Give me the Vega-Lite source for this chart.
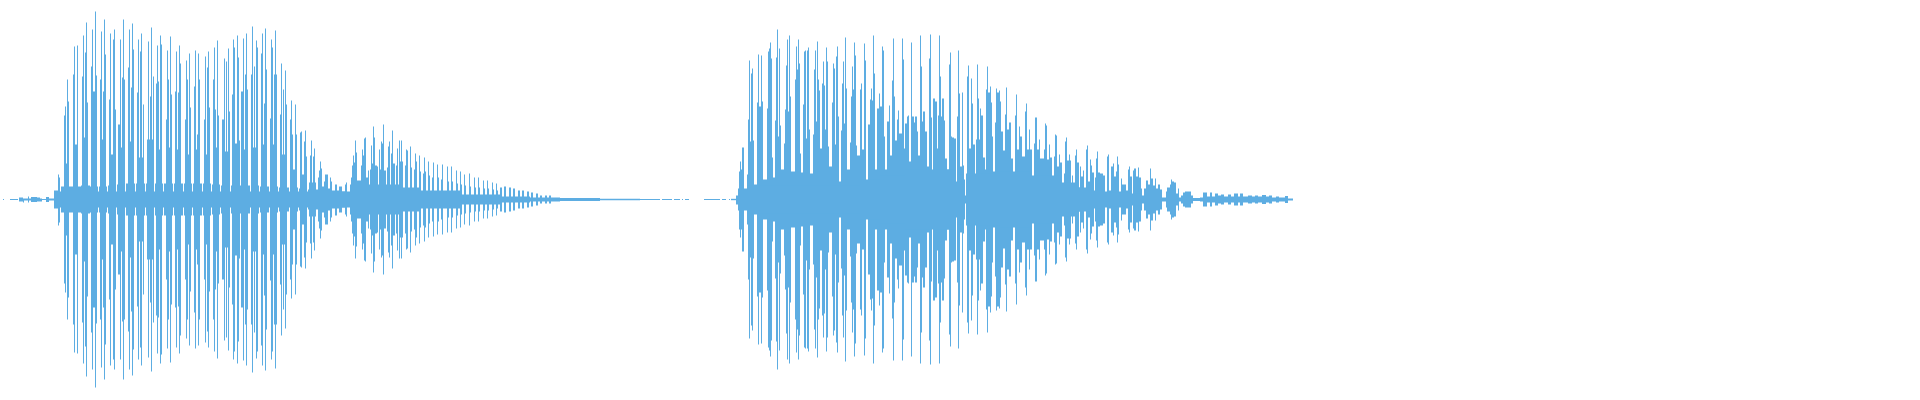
{
"$schema":"https://vega.github.io/schema/vega-lite/v6.json",
"width":1920,"height":400,"padding":0,
"autosize":"none",
"background":"white",
"view":{"stroke":null},
"data":{"values":[
{"x0":3,"x1":4,"lo":-0.5,"hi":0.5},{"x0":10,"x1":18,"lo":-0.5,"hi":0.5},{"x0":19,"x1":23,"lo":-2,"hi":2},{"x0":23,"x1":24,"lo":-3,"hi":1},{"x0":24,"x1":28,"lo":-1,"hi":1},{"x0":28,"x1":29,"lo":-3,"hi":3},{"x0":29,"x1":31,"lo":-1,"hi":1},{"x0":31,"x1":37,"lo":-2.5,"hi":2.5},{"x0":37,"x1":40,"lo":-2,"hi":2},{"x0":40,"x1":42,"lo":-2,"hi":1},{"x0":42,"x1":46,"lo":-0.5,"hi":0.5},{"x0":46,"x1":49,"lo":-2.5,"hi":2.5},{"x0":49,"x1":54,"lo":-1,"hi":1},
{"x0":54,"x1":60,"lo":-9,"hi":9},{"x0":58,"x1":59,"lo":-26,"hi":25},{"x0":59,"x1":60,"lo":-23,"hi":22},
{"x0":60,"x1":350,"lo":-8,"hi":8},
{"x0":61,"x1":72,"lo":-13,"hi":13},{"x0":72,"x1":81,"lo":-13,"hi":13},{"x0":81,"x1":90,"lo":-14,"hi":14},{"x0":90,"x1":98,"lo":-13,"hi":13},{"x0":99,"x1":107,"lo":-13,"hi":13},{"x0":108,"x1":116,"lo":-14,"hi":14},{"x0":117,"x1":125,"lo":-15,"hi":15},{"x0":126,"x1":135,"lo":-16,"hi":16},{"x0":136,"x1":145,"lo":-16,"hi":16},{"x0":146,"x1":154,"lo":-16,"hi":16},{"x0":155,"x1":163,"lo":-16,"hi":16},{"x0":164,"x1":173,"lo":-16,"hi":16},{"x0":174,"x1":183,"lo":-16,"hi":16},{"x0":184,"x1":192,"lo":-16,"hi":16},{"x0":193,"x1":202,"lo":-16,"hi":16},{"x0":203,"x1":211,"lo":-16,"hi":16},{"x0":212,"x1":220,"lo":-15,"hi":15},{"x0":221,"x1":230,"lo":-14,"hi":14},{"x0":231,"x1":239,"lo":-14,"hi":14},{"x0":240,"x1":250,"lo":-14,"hi":14},{"x0":251,"x1":259,"lo":-14,"hi":14},{"x0":260,"x1":269,"lo":-13,"hi":13},{"x0":270,"x1":278,"lo":-13,"hi":13},{"x0":279,"x1":289,"lo":-12,"hi":12},{"x0":290,"x1":298,"lo":-12,"hi":12},{"x0":299,"x1":307,"lo":-11,"hi":11},{"x0":308,"x1":318,"lo":-10,"hi":10},
{"x0":64,"x1":69,"lo":-36,"hi":36},{"x0":64,"x1":65,"lo":-84,"hi":84},{"x0":65,"x1":66,"lo":-93,"hi":93},{"x0":67,"x1":68,"lo":-120,"hi":120},{"x0":68,"x1":69,"lo":-98,"hi":98},
{"x0":73,"x1":78,"lo":-55,"hi":55},{"x0":73,"x1":74,"lo":-125,"hi":125},{"x0":74,"x1":75,"lo":-153,"hi":153},{"x0":77,"x1":78,"lo":-154,"hi":154},
{"x0":82,"x1":87,"lo":-62,"hi":62},{"x0":82,"x1":83,"lo":-123,"hi":123},{"x0":83,"x1":84,"lo":-164,"hi":164},{"x0":85,"x1":86,"lo":-147,"hi":147},{"x0":86,"x1":87,"lo":-177,"hi":177},{"x0":87,"x1":88,"lo":-97,"hi":97},
{"x0":91,"x1":97,"lo":-62,"hi":62},{"x0":91,"x1":92,"lo":-133,"hi":133},{"x0":92,"x1":93,"lo":-170,"hi":170},{"x0":93,"x1":95,"lo":-108,"hi":108},{"x0":95,"x1":96,"lo":-188,"hi":188},{"x0":96,"x1":97,"lo":-124,"hi":124},
{"x0":100,"x1":106,"lo":-60,"hi":60},{"x0":100,"x1":101,"lo":-120,"hi":120},{"x0":101,"x1":102,"lo":-168,"hi":168},{"x0":103,"x1":104,"lo":-108,"hi":108},{"x0":104,"x1":105,"lo":-180,"hi":180},{"x0":105,"x1":106,"lo":-145,"hi":145},
{"x0":109,"x1":115,"lo":-45,"hi":45},{"x0":109,"x1":110,"lo":-100,"hi":100},{"x0":110,"x1":111,"lo":-166,"hi":166},{"x0":113,"x1":114,"lo":-160,"hi":160},{"x0":114,"x1":115,"lo":-170,"hi":170},{"x0":115,"x1":116,"lo":-90,"hi":90},
{"x0":119,"x1":125,"lo":-52,"hi":52},{"x0":118,"x1":120,"lo":-75,"hi":75},{"x0":120,"x1":121,"lo":-160,"hi":160},{"x0":122,"x1":123,"lo":-122,"hi":122},{"x0":123,"x1":124,"lo":-180,"hi":180},{"x0":124,"x1":125,"lo":-120,"hi":120},
{"x0":128,"x1":134,"lo":-58,"hi":58},{"x0":128,"x1":129,"lo":-132,"hi":132},{"x0":129,"x1":130,"lo":-170,"hi":170},{"x0":131,"x1":132,"lo":-112,"hi":112},{"x0":132,"x1":133,"lo":-176,"hi":176},{"x0":133,"x1":134,"lo":-150,"hi":150},
{"x0":137,"x1":143,"lo":-42,"hi":42},{"x0":137,"x1":138,"lo":-107,"hi":107},{"x0":138,"x1":139,"lo":-160,"hi":160},{"x0":140,"x1":141,"lo":-148,"hi":148},{"x0":141,"x1":142,"lo":-166,"hi":166},{"x0":143,"x1":144,"lo":-95,"hi":95},
{"x0":147,"x1":153,"lo":-60,"hi":60},{"x0":148,"x1":149,"lo":-158,"hi":158},{"x0":150,"x1":151,"lo":-103,"hi":103},{"x0":151,"x1":152,"lo":-172,"hi":172},{"x0":153,"x1":154,"lo":-123,"hi":123},
{"x0":156,"x1":162,"lo":-50,"hi":50},{"x0":156,"x1":157,"lo":-116,"hi":116},{"x0":157,"x1":158,"lo":-154,"hi":154},{"x0":158,"x1":159,"lo":-118,"hi":118},{"x0":160,"x1":161,"lo":-164,"hi":164},{"x0":161,"x1":162,"lo":-155,"hi":155},
{"x0":166,"x1":172,"lo":-52,"hi":52},{"x0":166,"x1":167,"lo":-80,"hi":80},{"x0":167,"x1":168,"lo":-149,"hi":149},{"x0":168,"x1":169,"lo":-120,"hi":120},{"x0":170,"x1":171,"lo":-163,"hi":163},{"x0":171,"x1":172,"lo":-105,"hi":105},
{"x0":175,"x1":181,"lo":-50,"hi":50},{"x0":175,"x1":176,"lo":-108,"hi":108},{"x0":176,"x1":177,"lo":-148,"hi":148},{"x0":178,"x1":179,"lo":-107,"hi":107},{"x0":179,"x1":180,"lo":-154,"hi":154},{"x0":180,"x1":181,"lo":-136,"hi":136},
{"x0":185,"x1":191,"lo":-45,"hi":45},{"x0":185,"x1":186,"lo":-80,"hi":80},{"x0":186,"x1":187,"lo":-139,"hi":139},{"x0":187,"x1":188,"lo":-120,"hi":120},{"x0":189,"x1":190,"lo":-146,"hi":146},{"x0":190,"x1":191,"lo":-92,"hi":92},
{"x0":194,"x1":200,"lo":-50,"hi":50},{"x0":194,"x1":195,"lo":-113,"hi":113},{"x0":195,"x1":196,"lo":-149,"hi":149},{"x0":197,"x1":198,"lo":-65,"hi":65},{"x0":198,"x1":199,"lo":-146,"hi":146},{"x0":199,"x1":200,"lo":-120,"hi":120},
{"x0":204,"x1":210,"lo":-45,"hi":45},{"x0":204,"x1":205,"lo":-80,"hi":80},{"x0":205,"x1":206,"lo":-143,"hi":143},{"x0":207,"x1":208,"lo":-132,"hi":132},{"x0":208,"x1":209,"lo":-148,"hi":148},{"x0":209,"x1":210,"lo":-92,"hi":92},
{"x0":213,"x1":219,"lo":-52,"hi":52},{"x0":213,"x1":214,"lo":-120,"hi":120},{"x0":214,"x1":215,"lo":-152,"hi":152},{"x0":215,"x1":216,"lo":-90,"hi":90},{"x0":217,"x1":218,"lo":-159,"hi":159},{"x0":218,"x1":219,"lo":-84,"hi":84},
{"x0":223,"x1":229,"lo":-48,"hi":48},{"x0":222,"x1":224,"lo":-80,"hi":80},{"x0":224,"x1":225,"lo":-141,"hi":141},{"x0":226,"x1":227,"lo":-138,"hi":138},{"x0":228,"x1":229,"lo":-151,"hi":151},{"x0":229,"x1":230,"lo":-88,"hi":88},
{"x0":232,"x1":238,"lo":-56,"hi":56},{"x0":232,"x1":233,"lo":-105,"hi":105},{"x0":233,"x1":234,"lo":-160,"hi":160},{"x0":234,"x1":235,"lo":-152,"hi":152},{"x0":237,"x1":238,"lo":-164,"hi":164},{"x0":238,"x1":239,"lo":-142,"hi":142},{"x0":239,"x1":240,"lo":-59,"hi":59},
{"x0":242,"x1":248,"lo":-50,"hi":50},{"x0":241,"x1":243,"lo":-108,"hi":108},{"x0":243,"x1":244,"lo":-161,"hi":161},{"x0":245,"x1":246,"lo":-125,"hi":125},{"x0":246,"x1":247,"lo":-166,"hi":166},{"x0":247,"x1":248,"lo":-110,"hi":110},
{"x0":251,"x1":258,"lo":-52,"hi":52},{"x0":251,"x1":252,"lo":-125,"hi":125},{"x0":252,"x1":253,"lo":-173,"hi":173},{"x0":254,"x1":255,"lo":-133,"hi":133},{"x0":256,"x1":257,"lo":-159,"hi":159},{"x0":257,"x1":258,"lo":-152,"hi":152},
{"x0":261,"x1":267,"lo":-55,"hi":55},{"x0":261,"x1":262,"lo":-146,"hi":146},{"x0":262,"x1":263,"lo":-166,"hi":166},{"x0":264,"x1":265,"lo":-96,"hi":96},{"x0":265,"x1":266,"lo":-171,"hi":171},{"x0":266,"x1":267,"lo":-130,"hi":130},
{"x0":270,"x1":277,"lo":-55,"hi":55},{"x0":270,"x1":271,"lo":-81,"hi":81},{"x0":271,"x1":272,"lo":-160,"hi":160},{"x0":272,"x1":273,"lo":-152,"hi":152},{"x0":274,"x1":275,"lo":-125,"hi":125},{"x0":275,"x1":276,"lo":-169,"hi":169},{"x0":276,"x1":277,"lo":-125,"hi":125},
{"x0":280,"x1":287,"lo":-45,"hi":45},{"x0":280,"x1":281,"lo":-85,"hi":85},{"x0":281,"x1":282,"lo":-136,"hi":136},{"x0":283,"x1":284,"lo":-110,"hi":110},{"x0":285,"x1":286,"lo":-129,"hi":129},{"x0":286,"x1":287,"lo":-95,"hi":95},
{"x0":290,"x1":297,"lo":-30,"hi":30},{"x0":290,"x1":291,"lo":-80,"hi":80},{"x0":291,"x1":292,"lo":-99,"hi":99},{"x0":292,"x1":293,"lo":-65,"hi":65},{"x0":295,"x1":296,"lo":-95,"hi":95},{"x0":296,"x1":297,"lo":-65,"hi":65},
{"x0":300,"x1":307,"lo":-25,"hi":25},{"x0":300,"x1":301,"lo":-67,"hi":67},{"x0":301,"x1":302,"lo":-68,"hi":68},{"x0":304,"x1":305,"lo":-58,"hi":58},{"x0":305,"x1":306,"lo":-69,"hi":69},{"x0":306,"x1":307,"lo":-43,"hi":43},
{"x0":309,"x1":316,"lo":-17,"hi":17},{"x0":310,"x1":311,"lo":-44,"hi":44},{"x0":311,"x1":312,"lo":-59,"hi":59},{"x0":313,"x1":314,"lo":-43,"hi":43},{"x0":314,"x1":315,"lo":-51,"hi":51},
{"x0":318,"x1":319,"lo":-22,"hi":22},{"x0":319,"x1":320,"lo":-29,"hi":29},{"x0":320,"x1":321,"lo":-39,"hi":38},{"x0":321,"x1":322,"lo":-31,"hi":31},{"x0":322,"x1":324,"lo":-13,"hi":13},{"x0":324,"x1":325,"lo":-18,"hi":18},{"x0":325,"x1":328,"lo":-25,"hi":25},{"x0":328,"x1":330,"lo":-11,"hi":11},{"x0":330,"x1":331,"lo":-22,"hi":22},{"x0":331,"x1":332,"lo":-18,"hi":18},{"x0":332,"x1":335,"lo":-9,"hi":9},{"x0":335,"x1":337,"lo":-16,"hi":15},{"x0":337,"x1":339,"lo":-9,"hi":9},{"x0":339,"x1":342,"lo":-13,"hi":13},{"x0":342,"x1":345,"lo":-8,"hi":8},{"x0":345,"x1":346,"lo":-15,"hi":15},{"x0":346,"x1":347,"lo":-17,"hi":17},{"x0":347,"x1":350,"lo":-5,"hi":5},{"x0":350,"x1":351,"lo":-15,"hi":15},{"x0":351,"x1":352,"lo":-22,"hi":22},
{"x0":352,"x1":360,"lo":-12,"hi":12},{"x0":360,"x1":400,"lo":-15,"hi":15},{"x0":400,"x1":420,"lo":-12,"hi":12},{"x0":420,"x1":460,"lo":-9,"hi":9},{"x0":460,"x1":500,"lo":-5,"hi":5},{"x0":500,"x1":530,"lo":-3,"hi":3},{"x0":530,"x1":560,"lo":-2,"hi":2},{"x0":560,"x1":600,"lo":-1.5,"hi":1.5},{"x0":600,"x1":640,"lo":-0.7,"hi":0.7},
{"x0":352,"x1":353,"lo":-34,"hi":34},{"x0":353,"x1":354,"lo":-46,"hi":44},{"x0":354,"x1":355,"lo":-37,"hi":37},{"x0":355,"x1":356,"lo":-59,"hi":59},{"x0":356,"x1":357,"lo":-47,"hi":47},{"x0":357,"x1":361,"lo":-19,"hi":19},{"x0":361,"x1":362,"lo":-34,"hi":34},{"x0":362,"x1":363,"lo":-50,"hi":50},{"x0":363,"x1":364,"lo":-44,"hi":44},{"x0":364,"x1":365,"lo":-61,"hi":61},{"x0":365,"x1":366,"lo":-62,"hi":62},{"x0":366,"x1":368,"lo":-22,"hi":22},{"x0":368,"x1":369,"lo":-29,"hi":29},{"x0":370,"x1":371,"lo":-30,"hi":30},{"x0":371,"x1":372,"lo":-54,"hi":54},{"x0":372,"x1":373,"lo":-36,"hi":36},{"x0":373,"x1":374,"lo":-73,"hi":73},{"x0":374,"x1":375,"lo":-62,"hi":62},{"x0":375,"x1":377,"lo":-34,"hi":34},{"x0":377,"x1":378,"lo":-33,"hi":33},{"x0":379,"x1":380,"lo":-50,"hi":50},{"x0":380,"x1":381,"lo":-30,"hi":30},{"x0":381,"x1":382,"lo":-58,"hi":58},{"x0":382,"x1":383,"lo":-56,"hi":56},{"x0":383,"x1":384,"lo":-75,"hi":75},{"x0":384,"x1":386,"lo":-29,"hi":29},{"x0":387,"x1":388,"lo":-32,"hi":32},{"x0":388,"x1":389,"lo":-53,"hi":53},{"x0":389,"x1":390,"lo":-58,"hi":58},{"x0":391,"x1":392,"lo":-46,"hi":46},{"x0":392,"x1":393,"lo":-69,"hi":69},{"x0":393,"x1":395,"lo":-36,"hi":36},{"x0":396,"x1":397,"lo":-34,"hi":34},{"x0":397,"x1":398,"lo":-51,"hi":51},{"x0":399,"x1":400,"lo":-59,"hi":59},{"x0":400,"x1":401,"lo":-38,"hi":38},{"x0":401,"x1":402,"lo":-59,"hi":59},{"x0":402,"x1":403,"lo":-38,"hi":38},
{"x0":405,"x1":406,"lo":-34,"hi":34},{"x0":406,"x1":407,"lo":-50,"hi":50},{"x0":407,"x1":408,"lo":-49,"hi":49},{"x0":410,"x1":411,"lo":-53,"hi":53},{"x0":411,"x1":412,"lo":-32,"hi":32},{"x0":414,"x1":415,"lo":-30,"hi":30},{"x0":415,"x1":416,"lo":-46,"hi":46},{"x0":416,"x1":417,"lo":-38,"hi":38},{"x0":419,"x1":420,"lo":-44,"hi":44},{"x0":420,"x1":421,"lo":-28,"hi":28},{"x0":423,"x1":424,"lo":-26,"hi":26},{"x0":424,"x1":425,"lo":-42,"hi":42},{"x0":425,"x1":426,"lo":-28,"hi":28},{"x0":428,"x1":429,"lo":-38,"hi":38},{"x0":429,"x1":430,"lo":-24,"hi":24},{"x0":432,"x1":433,"lo":-22,"hi":22},{"x0":433,"x1":434,"lo":-37,"hi":37},{"x0":437,"x1":438,"lo":-35,"hi":35},{"x0":438,"x1":439,"lo":-22,"hi":22},{"x0":441,"x1":442,"lo":-20,"hi":20},{"x0":442,"x1":443,"lo":-35,"hi":35},{"x0":447,"x1":448,"lo":-33,"hi":33},{"x0":448,"x1":449,"lo":-18,"hi":18},{"x0":451,"x1":452,"lo":-33,"hi":33},{"x0":452,"x1":453,"lo":-18,"hi":18},{"x0":456,"x1":457,"lo":-29,"hi":29},{"x0":457,"x1":458,"lo":-16,"hi":16},{"x0":460,"x1":461,"lo":-28,"hi":28},{"x0":461,"x1":462,"lo":-15,"hi":15},{"x0":464,"x1":465,"lo":-25,"hi":25},{"x0":465,"x1":466,"lo":-14,"hi":14},{"x0":469,"x1":470,"lo":-26,"hi":26},{"x0":470,"x1":471,"lo":-13,"hi":13},{"x0":474,"x1":475,"lo":-22,"hi":22},{"x0":475,"x1":476,"lo":-12,"hi":12},{"x0":478,"x1":479,"lo":-22,"hi":22},{"x0":479,"x1":480,"lo":-12,"hi":12},{"x0":483,"x1":484,"lo":-19,"hi":19},{"x0":484,"x1":485,"lo":-11,"hi":11},{"x0":487,"x1":488,"lo":-19,"hi":19},{"x0":488,"x1":489,"lo":-11,"hi":11},{"x0":492,"x1":493,"lo":-17,"hi":17},{"x0":493,"x1":494,"lo":-10,"hi":10},{"x0":496,"x1":497,"lo":-16,"hi":16},{"x0":497,"x1":498,"lo":-9,"hi":9},{"x0":500,"x1":502,"lo":-12,"hi":12},{"x0":504,"x1":506,"lo":-13,"hi":13},{"x0":509,"x1":511,"lo":-12,"hi":12},{"x0":513,"x1":515,"lo":-11,"hi":11},{"x0":518,"x1":520,"lo":-9,"hi":9},{"x0":522,"x1":524,"lo":-9,"hi":9},{"x0":527,"x1":529,"lo":-8,"hi":8},{"x0":531,"x1":533,"lo":-7,"hi":7},{"x0":536,"x1":538,"lo":-6,"hi":6},{"x0":540,"x1":542,"lo":-4,"hi":4},{"x0":545,"x1":547,"lo":-4,"hi":4},{"x0":549,"x1":551,"lo":-4,"hi":4},
{"x0":640,"x1":660,"lo":-0.5,"hi":0.5},{"x0":662,"x1":672,"lo":-0.5,"hi":0.5},{"x0":674,"x1":680,"lo":-0.5,"hi":0.5},{"x0":682,"x1":683,"lo":-0.5,"hi":0.5},{"x0":685,"x1":689,"lo":-0.5,"hi":0.5},{"x0":704,"x1":712,"lo":-0.5,"hi":0.5},{"x0":712,"x1":720,"lo":-0.5,"hi":0.5},
{"x0":722,"x1":726,"lo":-0.5,"hi":0.5},{"x0":729,"x1":730,"lo":-0.5,"hi":0.5},{"x0":731,"x1":736,"lo":-0.7,"hi":0.7},{"x0":736,"x1":738,"lo":-5,"hi":4},{"x0":738,"x1":739,"lo":-11,"hi":11},{"x0":739,"x1":740,"lo":-30,"hi":28},{"x0":740,"x1":741,"lo":-38,"hi":38},{"x0":741,"x1":742,"lo":-30,"hi":30},{"x0":742,"x1":744,"lo":-52,"hi":52},{"x0":744,"x1":747,"lo":-11,"hi":11},{"x0":747,"x1":748,"lo":-25,"hi":25},{"x0":748,"x1":749,"lo":-80,"hi":80},{"x0":749,"x1":750,"lo":-139,"hi":139},{"x0":750,"x1":751,"lo":-58,"hi":58},{"x0":751,"x1":752,"lo":-126,"hi":126},{"x0":752,"x1":753,"lo":-131,"hi":131},{"x0":753,"x1":754,"lo":-59,"hi":59},{"x0":754,"x1":757,"lo":-15,"hi":15},{"x0":757,"x1":758,"lo":-97,"hi":97},{"x0":758,"x1":759,"lo":-145,"hi":145},{"x0":759,"x1":761,"lo":-93,"hi":93},{"x0":761,"x1":762,"lo":-144,"hi":144},{"x0":762,"x1":763,"lo":-98,"hi":98},{"x0":763,"x1":767,"lo":-20,"hi":20},{"x0":767,"x1":768,"lo":-91,"hi":91},{"x0":768,"x1":769,"lo":-148,"hi":148},{"x0":769,"x1":770,"lo":-151,"hi":151},{"x0":770,"x1":771,"lo":-157,"hi":157},{"x0":771,"x1":772,"lo":-141,"hi":141},{"x0":772,"x1":773,"lo":-42,"hi":42},{"x0":773,"x1":775,"lo":-22,"hi":22},{"x0":775,"x1":776,"lo":-79,"hi":79},{"x0":776,"x1":777,"lo":-142,"hi":142},{"x0":777,"x1":778,"lo":-170,"hi":170},{"x0":778,"x1":779,"lo":-63,"hi":63},{"x0":779,"x1":780,"lo":-151,"hi":151},{"x0":780,"x1":781,"lo":-74,"hi":74},{"x0":781,"x1":784,"lo":-30,"hi":30},{"x0":784,"x1":785,"lo":-56,"hi":56},{"x0":785,"x1":786,"lo":-90,"hi":90},{"x0":786,"x1":787,"lo":-134,"hi":134},{"x0":787,"x1":788,"lo":-160,"hi":160},{"x0":788,"x1":789,"lo":-88,"hi":88},{"x0":789,"x1":790,"lo":-164,"hi":164},{"x0":790,"x1":791,"lo":-103,"hi":103},{"x0":791,"x1":795,"lo":-28,"hi":28},{"x0":795,"x1":796,"lo":-120,"hi":120},{"x0":796,"x1":797,"lo":-153,"hi":153},{"x0":797,"x1":798,"lo":-130,"hi":130},{"x0":798,"x1":799,"lo":-160,"hi":160},{"x0":799,"x1":800,"lo":-136,"hi":136},{"x0":800,"x1":801,"lo":-46,"hi":46},{"x0":801,"x1":803,"lo":-27,"hi":27},{"x0":803,"x1":804,"lo":-95,"hi":95},{"x0":804,"x1":805,"lo":-148,"hi":148},{"x0":805,"x1":806,"lo":-149,"hi":149},{"x0":806,"x1":807,"lo":-61,"hi":61},{"x0":807,"x1":808,"lo":-149,"hi":149},{"x0":808,"x1":809,"lo":-152,"hi":152},{"x0":809,"x1":810,"lo":-70,"hi":70},{"x0":810,"x1":813,"lo":-26,"hi":26},{"x0":813,"x1":814,"lo":-65,"hi":65},{"x0":814,"x1":815,"lo":-130,"hi":130},{"x0":815,"x1":816,"lo":-149,"hi":149},{"x0":816,"x1":817,"lo":-78,"hi":78},{"x0":817,"x1":818,"lo":-158,"hi":158},{"x0":818,"x1":819,"lo":-120,"hi":120},{"x0":819,"x1":820,"lo":-109,"hi":109},{"x0":820,"x1":822,"lo":-51,"hi":51},{"x0":822,"x1":823,"lo":-116,"hi":116},{"x0":823,"x1":824,"lo":-138,"hi":138},{"x0":824,"x1":825,"lo":-114,"hi":114},{"x0":825,"x1":826,"lo":-70,"hi":70},{"x0":826,"x1":827,"lo":-152,"hi":152},{"x0":827,"x1":828,"lo":-138,"hi":138},{"x0":828,"x1":829,"lo":-53,"hi":53},{"x0":829,"x1":832,"lo":-33,"hi":33},{"x0":832,"x1":833,"lo":-97,"hi":97},{"x0":833,"x1":834,"lo":-136,"hi":136},{"x0":834,"x1":835,"lo":-131,"hi":131},{"x0":835,"x1":836,"lo":-55,"hi":55},{"x0":836,"x1":837,"lo":-143,"hi":143},{"x0":837,"x1":838,"lo":-153,"hi":153},{"x0":838,"x1":839,"lo":-83,"hi":83},{"x0":839,"x1":841,"lo":-18,"hi":18},{"x0":841,"x1":842,"lo":-69,"hi":69},{"x0":842,"x1":843,"lo":-116,"hi":116},{"x0":843,"x1":844,"lo":-138,"hi":138},{"x0":844,"x1":845,"lo":-76,"hi":76},{"x0":845,"x1":846,"lo":-162,"hi":162},{"x0":846,"x1":847,"lo":-111,"hi":111},{"x0":847,"x1":850,"lo":-30,"hi":30},{"x0":850,"x1":851,"lo":-57,"hi":57},{"x0":851,"x1":852,"lo":-103,"hi":103},{"x0":852,"x1":853,"lo":-133,"hi":133},{"x0":853,"x1":854,"lo":-110,"hi":110},{"x0":854,"x1":855,"lo":-157,"hi":157},{"x0":855,"x1":856,"lo":-144,"hi":144},{"x0":856,"x1":857,"lo":-54,"hi":54},{"x0":857,"x1":860,"lo":-44,"hi":44},{"x0":860,"x1":861,"lo":-110,"hi":110},{"x0":861,"x1":862,"lo":-116,"hi":116},{"x0":862,"x1":864,"lo":-50,"hi":50},{"x0":864,"x1":865,"lo":-156,"hi":156},{"x0":865,"x1":866,"lo":-139,"hi":139},{"x0":866,"x1":868,"lo":-14,"hi":14},{"x0":868,"x1":870,"lo":-75,"hi":75},{"x0":870,"x1":871,"lo":-100,"hi":100},{"x0":871,"x1":872,"lo":-111,"hi":111},{"x0":872,"x1":873,"lo":-99,"hi":99},{"x0":873,"x1":874,"lo":-164,"hi":164},{"x0":874,"x1":875,"lo":-126,"hi":126},{"x0":875,"x1":877,"lo":-30,"hi":30},{"x0":877,"x1":879,"lo":-91,"hi":91},{"x0":879,"x1":880,"lo":-106,"hi":106},{"x0":880,"x1":882,"lo":-93,"hi":93},{"x0":882,"x1":883,"lo":-153,"hi":153},{"x0":883,"x1":884,"lo":-149,"hi":149},{"x0":884,"x1":885,"lo":-63,"hi":63},{"x0":885,"x1":887,"lo":-30,"hi":30},{"x0":887,"x1":889,"lo":-78,"hi":78},{"x0":889,"x1":890,"lo":-94,"hi":94},{"x0":890,"x1":892,"lo":-44,"hi":44},{"x0":892,"x1":893,"lo":-119,"hi":119},{"x0":893,"x1":894,"lo":-161,"hi":161},{"x0":894,"x1":895,"lo":-103,"hi":103},{"x0":895,"x1":897,"lo":-59,"hi":59},{"x0":897,"x1":898,"lo":-80,"hi":80},{"x0":898,"x1":899,"lo":-89,"hi":89},{"x0":899,"x1":902,"lo":-66,"hi":66},{"x0":902,"x1":903,"lo":-161,"hi":161},{"x0":903,"x1":904,"lo":-140,"hi":140},{"x0":904,"x1":905,"lo":-51,"hi":51},{"x0":905,"x1":907,"lo":-76,"hi":76},{"x0":907,"x1":908,"lo":-83,"hi":83},{"x0":908,"x1":909,"lo":-84,"hi":84},{"x0":909,"x1":911,"lo":-38,"hi":38},{"x0":911,"x1":912,"lo":-157,"hi":157},{"x0":912,"x1":914,"lo":-83,"hi":83},{"x0":914,"x1":915,"lo":-77,"hi":77},{"x0":915,"x1":917,"lo":-83,"hi":83},{"x0":917,"x1":918,"lo":-68,"hi":68},{"x0":918,"x1":920,"lo":-44,"hi":44},{"x0":920,"x1":921,"lo":-164,"hi":164},{"x0":921,"x1":922,"lo":-133,"hi":133},{"x0":922,"x1":923,"lo":-78,"hi":78},{"x0":923,"x1":925,"lo":-88,"hi":88},{"x0":925,"x1":927,"lo":-68,"hi":68},{"x0":927,"x1":929,"lo":-33,"hi":33},{"x0":929,"x1":930,"lo":-141,"hi":141},{"x0":930,"x1":931,"lo":-165,"hi":165},{"x0":931,"x1":932,"lo":-82,"hi":82},{"x0":933,"x1":935,"lo":-101,"hi":101},{"x0":935,"x1":937,"lo":-98,"hi":98},{"x0":937,"x1":938,"lo":-51,"hi":51},{"x0":938,"x1":939,"lo":-84,"hi":84},{"x0":939,"x1":940,"lo":-164,"hi":164},{"x0":940,"x1":941,"lo":-123,"hi":123},{"x0":941,"x1":942,"lo":-83,"hi":83},{"x0":942,"x1":944,"lo":-101,"hi":101},{"x0":944,"x1":945,"lo":-79,"hi":79},{"x0":945,"x1":947,"lo":-41,"hi":41},{"x0":947,"x1":949,"lo":-30,"hi":30},{"x0":949,"x1":950,"lo":-135,"hi":135},{"x0":950,"x1":951,"lo":-147,"hi":147},{"x0":951,"x1":952,"lo":-63,"hi":63},{"x0":952,"x1":954,"lo":-62,"hi":62},{"x0":954,"x1":956,"lo":-61,"hi":61},{"x0":956,"x1":957,"lo":-18,"hi":18},{"x0":957,"x1":958,"lo":-83,"hi":83},{"x0":958,"x1":959,"lo":-149,"hi":149},{"x0":959,"x1":960,"lo":-106,"hi":106},{"x0":960,"x1":962,"lo":-33,"hi":33},{"x0":962,"x1":963,"lo":-113,"hi":107},{"x0":963,"x1":964,"lo":-34,"hi":34},{"x0":964,"x1":965,"lo":-20,"hi":20},{"x0":965,"x1":966,"lo":-4,"hi":4},{"x0":966,"x1":967,"lo":-20,"hi":20},{"x0":967,"x1":968,"lo":-123,"hi":123},{"x0":968,"x1":969,"lo":-134,"hi":134},{"x0":969,"x1":971,"lo":-51,"hi":51},{"x0":971,"x1":972,"lo":-121,"hi":121},{"x0":972,"x1":973,"lo":-96,"hi":96},{"x0":973,"x1":975,"lo":-55,"hi":55},{"x0":975,"x1":976,"lo":-24,"hi":24},{"x0":976,"x1":977,"lo":-60,"hi":60},{"x0":977,"x1":978,"lo":-135,"hi":135},{"x0":978,"x1":979,"lo":-101,"hi":101},{"x0":979,"x1":980,"lo":-60,"hi":60},{"x0":980,"x1":981,"lo":-91,"hi":91},{"x0":981,"x1":983,"lo":-84,"hi":84},{"x0":983,"x1":985,"lo":-42,"hi":42},{"x0":985,"x1":986,"lo":-30,"hi":30},{"x0":986,"x1":987,"lo":-110,"hi":110},{"x0":987,"x1":988,"lo":-133,"hi":133},{"x0":988,"x1":990,"lo":-107,"hi":107},{"x0":990,"x1":991,"lo":-113,"hi":113},{"x0":991,"x1":992,"lo":-97,"hi":97},{"x0":992,"x1":993,"lo":-63,"hi":63},{"x0":993,"x1":995,"lo":-28,"hi":28},{"x0":995,"x1":996,"lo":-77,"hi":77},{"x0":996,"x1":997,"lo":-111,"hi":111},{"x0":997,"x1":999,"lo":-107,"hi":107},{"x0":999,"x1":1000,"lo":-109,"hi":109},
{"x0":747,"x1":860,"lo":-14,"hi":14},{"x0":860,"x1":880,"lo":-20,"hi":20},{"x0":880,"x1":905,"lo":-24,"hi":24},{"x0":905,"x1":956,"lo":-30,"hi":30},{"x0":957,"x1":964,"lo":-25,"hi":25},{"x0":966,"x1":1000,"lo":-26,"hi":26},
{"x0":1000,"x1":1001,"lo":-98,"hi":98},{"x0":1001,"x1":1003,"lo":-68,"hi":68},{"x0":1003,"x1":1005,"lo":-49,"hi":49},{"x0":1005,"x1":1006,"lo":-85,"hi":85},{"x0":1006,"x1":1007,"lo":-112,"hi":112},{"x0":1007,"x1":1009,"lo":-70,"hi":70},{"x0":1009,"x1":1011,"lo":-77,"hi":77},{"x0":1011,"x1":1013,"lo":-41,"hi":41},{"x0":1015,"x1":1016,"lo":-84,"hi":84},{"x0":1016,"x1":1017,"lo":-105,"hi":105},{"x0":1017,"x1":1019,"lo":-50,"hi":50},{"x0":1019,"x1":1020,"lo":-73,"hi":73},{"x0":1020,"x1":1022,"lo":-63,"hi":63},{"x0":1022,"x1":1025,"lo":-43,"hi":43},{"x0":1025,"x1":1026,"lo":-88,"hi":88},{"x0":1026,"x1":1027,"lo":-96,"hi":96},{"x0":1027,"x1":1029,"lo":-50,"hi":50},{"x0":1029,"x1":1030,"lo":-70,"hi":70},{"x0":1030,"x1":1032,"lo":-50,"hi":50},{"x0":1034,"x1":1035,"lo":-56,"hi":56},{"x0":1035,"x1":1037,"lo":-82,"hi":82},{"x0":1037,"x1":1039,"lo":-50,"hi":50},{"x0":1039,"x1":1040,"lo":-60,"hi":60},{"x0":1040,"x1":1044,"lo":-41,"hi":41},{"x0":1044,"x1":1045,"lo":-50,"hi":50},{"x0":1045,"x1":1046,"lo":-76,"hi":76},{"x0":1046,"x1":1047,"lo":-74,"hi":74},{"x0":1047,"x1":1049,"lo":-40,"hi":40},{"x0":1049,"x1":1050,"lo":-55,"hi":55},{"x0":1050,"x1":1052,"lo":-42,"hi":42},{"x0":1054,"x1":1055,"lo":-43,"hi":43},{"x0":1055,"x1":1056,"lo":-65,"hi":65},{"x0":1056,"x1":1057,"lo":-64,"hi":64},{"x0":1057,"x1":1059,"lo":-33,"hi":33},{"x0":1059,"x1":1060,"lo":-45,"hi":45},{"x0":1060,"x1":1062,"lo":-37,"hi":37},{"x0":1064,"x1":1065,"lo":-26,"hi":26},{"x0":1065,"x1":1066,"lo":-58,"hi":58},{"x0":1066,"x1":1067,"lo":-62,"hi":62},{"x0":1067,"x1":1069,"lo":-39,"hi":39},{"x0":1069,"x1":1070,"lo":-45,"hi":45},{"x0":1070,"x1":1071,"lo":-39,"hi":39},{"x0":1072,"x1":1073,"lo":-24,"hi":24},{"x0":1075,"x1":1076,"lo":-44,"hi":44},{"x0":1076,"x1":1077,"lo":-50,"hi":50},{"x0":1077,"x1":1079,"lo":-37,"hi":37},{"x0":1079,"x1":1080,"lo":-12,"hi":12},{"x0":1080,"x1":1081,"lo":-33,"hi":33},{"x0":1081,"x1":1083,"lo":-23,"hi":23},{"x0":1083,"x1":1084,"lo":-29,"hi":29},{"x0":1086,"x1":1087,"lo":-50,"hi":50},{"x0":1087,"x1":1088,"lo":-54,"hi":54},{"x0":1088,"x1":1090,"lo":-18,"hi":18},{"x0":1090,"x1":1091,"lo":-40,"hi":40},{"x0":1091,"x1":1092,"lo":-34,"hi":34},{"x0":1092,"x1":1094,"lo":-27,"hi":27},{"x0":1095,"x1":1096,"lo":-22,"hi":22},{"x0":1096,"x1":1097,"lo":-41,"hi":41},{"x0":1097,"x1":1098,"lo":-48,"hi":48},{"x0":1098,"x1":1100,"lo":-27,"hi":27},{"x0":1100,"x1":1103,"lo":-26,"hi":26},{"x0":1103,"x1":1105,"lo":-24,"hi":24},{"x0":1105,"x1":1107,"lo":-8,"hi":8},{"x0":1107,"x1":1108,"lo":-43,"hi":43},{"x0":1108,"x1":1109,"lo":-45,"hi":45},{"x0":1109,"x1":1111,"lo":-9,"hi":9},{"x0":1111,"x1":1113,"lo":-33,"hi":33},{"x0":1113,"x1":1114,"lo":-36,"hi":36},{"x0":1114,"x1":1116,"lo":-23,"hi":23},{"x0":1116,"x1":1117,"lo":-28,"hi":28},{"x0":1117,"x1":1118,"lo":-43,"hi":43},{"x0":1118,"x1":1119,"lo":-35,"hi":35},{"x0":1119,"x1":1121,"lo":-8,"hi":8},{"x0":1121,"x1":1122,"lo":-21,"hi":21},{"x0":1122,"x1":1126,"lo":-15,"hi":15},{"x0":1126,"x1":1128,"lo":-9,"hi":9},{"x0":1128,"x1":1129,"lo":-30,"hi":30},{"x0":1129,"x1":1130,"lo":-33,"hi":33},{"x0":1130,"x1":1132,"lo":-23,"hi":23},{"x0":1133,"x1":1134,"lo":-29,"hi":29},{"x0":1134,"x1":1136,"lo":-31,"hi":31},{"x0":1136,"x1":1138,"lo":-23,"hi":23},{"x0":1138,"x1":1139,"lo":-32,"hi":32},{"x0":1139,"x1":1141,"lo":-22,"hi":22},{"x0":1141,"x1":1142,"lo":-11,"hi":11},{"x0":1142,"x1":1144,"lo":-4,"hi":4},{"x0":1144,"x1":1146,"lo":-11,"hi":11},{"x0":1146,"x1":1148,"lo":-19,"hi":19},{"x0":1148,"x1":1150,"lo":-15,"hi":15},{"x0":1150,"x1":1151,"lo":-31,"hi":31},{"x0":1151,"x1":1153,"lo":-21,"hi":21},{"x0":1153,"x1":1155,"lo":-14,"hi":14},{"x0":1155,"x1":1156,"lo":-21,"hi":21},{"x0":1156,"x1":1158,"lo":-11,"hi":11},{"x0":1158,"x1":1160,"lo":-15,"hi":15},{"x0":1160,"x1":1162,"lo":-10,"hi":10},{"x0":1162,"x1":1166,"lo":-2,"hi":2},{"x0":1166,"x1":1167,"lo":-8,"hi":8},{"x0":1167,"x1":1170,"lo":-12,"hi":12},{"x0":1170,"x1":1171,"lo":-15,"hi":15},{"x0":1171,"x1":1172,"lo":-20,"hi":20},{"x0":1172,"x1":1174,"lo":-18,"hi":18},{"x0":1174,"x1":1176,"lo":-17,"hi":17},{"x0":1176,"x1":1178,"lo":-6,"hi":6},{"x0":1178,"x1":1179,"lo":-11,"hi":11},{"x0":1179,"x1":1181,"lo":-2,"hi":2},{"x0":1181,"x1":1183,"lo":-4,"hi":4},{"x0":1183,"x1":1185,"lo":-7,"hi":7},{"x0":1185,"x1":1188,"lo":-8,"hi":8},{"x0":1188,"x1":1191,"lo":-8,"hi":8},{"x0":1191,"x1":1193,"lo":-4,"hi":4},{"x0":1193,"x1":1197,"lo":-1.5,"hi":1.5},{"x0":1197,"x1":1200,"lo":-1.5,"hi":1.5},{"x0":1200,"x1":1203,"lo":-2,"hi":2},{"x0":1203,"x1":1207,"lo":-7,"hi":7},{"x0":1207,"x1":1210,"lo":-3,"hi":3},{"x0":1210,"x1":1212,"lo":-7,"hi":7},{"x0":1212,"x1":1215,"lo":-3,"hi":3},{"x0":1215,"x1":1218,"lo":-6,"hi":6},{"x0":1218,"x1":1223,"lo":-4,"hi":4},{"x0":1223,"x1":1228,"lo":-3,"hi":3},{"x0":1221,"x1":1224,"lo":-5,"hi":5},{"x0":1228,"x1":1231,"lo":-5,"hi":5},{"x0":1231,"x1":1234,"lo":-3,"hi":3},{"x0":1234,"x1":1238,"lo":-6,"hi":6},{"x0":1238,"x1":1240,"lo":-3,"hi":3},{"x0":1240,"x1":1243,"lo":-6,"hi":6},{"x0":1243,"x1":1246,"lo":-3,"hi":3},{"x0":1246,"x1":1248,"lo":-3,"hi":3},{"x0":1248,"x1":1252,"lo":-4,"hi":4},{"x0":1252,"x1":1255,"lo":-3,"hi":3},{"x0":1255,"x1":1258,"lo":-4,"hi":4},{"x0":1258,"x1":1262,"lo":-3,"hi":3},{"x0":1262,"x1":1266,"lo":-4.5,"hi":4.5},{"x0":1266,"x1":1269,"lo":-3,"hi":3},{"x0":1269,"x1":1272,"lo":-4,"hi":4},{"x0":1272,"x1":1276,"lo":-2,"hi":2},{"x0":1276,"x1":1279,"lo":-3,"hi":3},{"x0":1279,"x1":1285,"lo":-2,"hi":2},{"x0":1285,"x1":1288,"lo":-3.5,"hi":3.5},{"x0":1288,"x1":1290,"lo":-1,"hi":1},{"x0":1290,"x1":1293,"lo":-1,"hi":1},
{"x0":1000,"x1":1030,"lo":-28,"hi":28},{"x0":1030,"x1":1060,"lo":-24,"hi":24},{"x0":1060,"x1":1075,"lo":-17,"hi":17},{"x0":1075,"x1":1090,"lo":-12,"hi":12},{"x0":1090,"x1":1105,"lo":-9,"hi":9},{"x0":1105,"x1":1130,"lo":-7,"hi":7},{"x0":1130,"x1":1142,"lo":-6,"hi":6}
]},
"mark":{"type":"rect","color":"#5dade2"},
"encoding":{
"x":{"field":"x0","type":"quantitative","scale":{"domain":[0,1920],"nice":false,"zero":false},"axis":null},
"x2":{"field":"x1"},
"y":{"field":"lo","type":"quantitative","scale":{"domain":[-200.5,199.5],"nice":false,"zero":false},"axis":null},
"y2":{"field":"hi"}
}
}
